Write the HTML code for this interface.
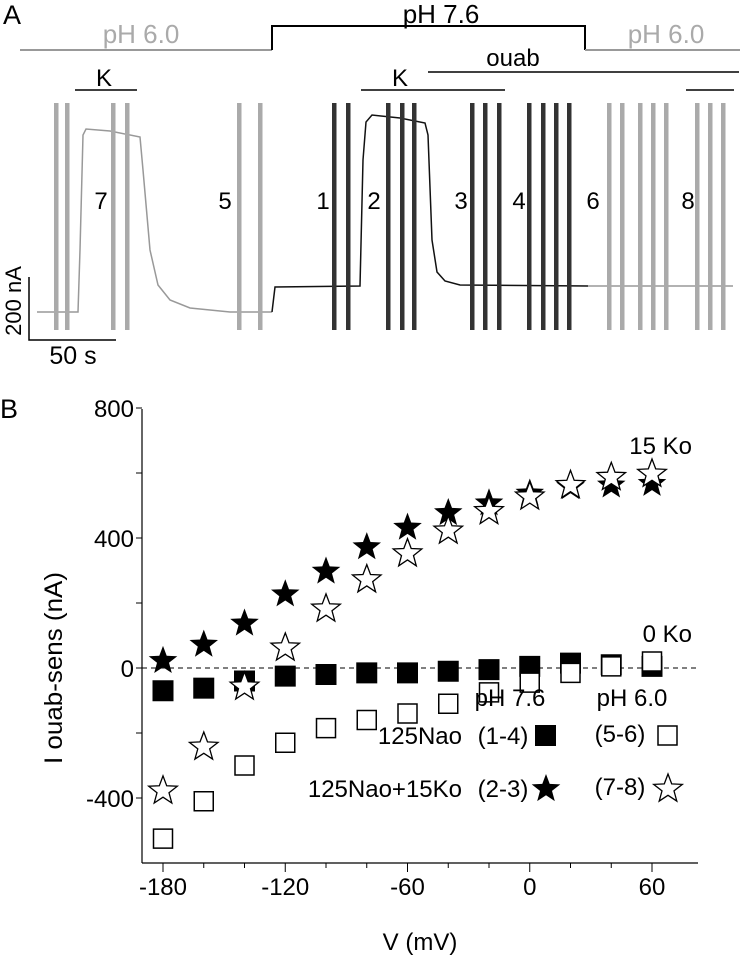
<!DOCTYPE html>
<html><head><meta charset="utf-8"><style>
html,body{margin:0;padding:0;background:#fff;}
svg{display:block;font-family:"Liberation Sans",Arial,sans-serif;}
</style></head><body>
<svg width="740" height="960" viewBox="0 0 740 960">
<!-- Panel A -->
<g>
<text x="3" y="24" font-size="27">A</text>
<polyline points="20,50 272,50" stroke="#999" stroke-width="2" fill="none"/>
<polyline points="272,50 272,26 585,26 585,50" stroke="#000" stroke-width="2" fill="none"/>
<polyline points="585,50 740,50" stroke="#999" stroke-width="2" fill="none"/>
<text x="141" y="43" font-size="26" fill="#aaa" text-anchor="middle">pH 6.0</text>
<text x="441" y="23" font-size="26" text-anchor="middle">pH 7.6</text>
<text x="666" y="43" font-size="26" fill="#aaa" text-anchor="middle">pH 6.0</text>
<line x1="75" y1="90" x2="137" y2="90" stroke="#000" stroke-width="1.5"/>
<text x="104" y="86" font-size="24" text-anchor="middle">K</text>
<line x1="361" y1="90" x2="505" y2="90" stroke="#000" stroke-width="1.5"/>
<text x="400" y="86" font-size="24" text-anchor="middle">K</text>
<line x1="428" y1="72" x2="739" y2="72" stroke="#000" stroke-width="1.5"/>
<text x="513" y="66" font-size="24" text-anchor="middle">ouab</text>
<line x1="686" y1="90" x2="734" y2="90" stroke="#000" stroke-width="1.5"/>
<polyline fill="none" stroke="#999" stroke-width="1.5"
 points="37,312 78,312 80,250 83,135 86,129 110,131 140,137 143,170 150,250 158,285 170,300 190,308 230,312 272,312"/>
<polyline fill="none" stroke="#111" stroke-width="1.5"
 points="272,312 275,287 360,286 363,160 366,122 372,115 400,118 425,123 428,135 432,240 437,272 445,281 460,285 588,286"/>
<polyline fill="none" stroke="#999" stroke-width="1.5"
 points="588,286 733,286"/>
<g id="vbars"></g>
<g font-size="24" text-anchor="middle">
<text x="101" y="209">7</text><text x="225" y="209">5</text><text x="323" y="209">1</text><text x="374" y="209">2</text>
<text x="461" y="209">3</text><text x="519" y="209">4</text><text x="593" y="209">6</text><text x="688" y="209">8</text>
</g>
<polyline points="29,277 29,340 116,340" stroke="#000" stroke-width="1.5" fill="none"/>
<text transform="translate(21,301) rotate(-90)" font-size="22" text-anchor="middle">200 nA</text>
<text x="73" y="364" font-size="25" text-anchor="middle">50 s</text>
</g>
<!-- Panel B -->
<g>
<text x="0" y="418" font-size="27">B</text>
<g id="axes"></g>
<g id="marks"></g>
<text x="692" y="454" font-size="24" text-anchor="end">15 Ko</text>
<text x="692" y="642" font-size="24" text-anchor="end">0 Ko</text>
<g font-size="24">
<text x="510" y="706" text-anchor="middle">pH 7.6</text>
<text x="632" y="706" text-anchor="middle">pH 6.0</text>
<text x="462" y="744" text-anchor="end">125Nao</text>
<text x="503" y="744" text-anchor="middle">(1-4)</text>
<rect x="535" y="725" width="21" height="21" fill="#000"/>
<text x="620" y="742" text-anchor="middle">(5-6)</text>
<rect x="658" y="726" width="19" height="19" fill="#fff" stroke="#000" stroke-width="1.5"/>
<text x="462" y="797" text-anchor="end">125Nao+15Ko</text>
<text x="503" y="797" text-anchor="middle">(2-3)</text>
<text x="620" y="795" text-anchor="middle">(7-8)</text>
<g id="legstars"></g>
</g>
</g>
</svg>
<script>
const voltages=[-180,-160,-140,-120,-100,-80,-60,-40,-20,0,20,40,60];
const filledSquares=[-70,-62,-40,-25,-20,-15,-15,-10,-5,5,15,10,5];
const openSquares=[-525,-410,-300,-230,-185,-160,-140,-110,-75,-45,-15,5,20];
const filledStars=[25,75,140,230,300,375,435,480,510,540,560,565,570];
const openStars=[-375,-240,-55,65,185,275,355,425,485,530,565,590,600];
const yTickLabels=[-400,0,400,800];
const xTickLabels=[-180,-120,-60,0,60];
const barXs=[56,67,113,127,239,260,334,348,388,402,414,472,485,499,529,543,556,569,609,622,640,653,666,697,710,723];
const barDark=[0,0,0,0,0,0,1,1,1,1,1,1,1,1,1,1,1,1,0,0,0,0,0,0,0,0];
const NS="http://www.w3.org/2000/svg";
function mk(t,a,p){const e=document.createElementNS(NS,t);for(const k in a)e.setAttribute(k,a[k]);p.appendChild(e);return e;}
const X=v=>163+(v+180)*489/240;
const Y=i=>668-i*0.325;
const vb=document.getElementById('vbars');
barXs.forEach((x,i)=>{const r=mk('rect',{x:x-2,y:103,width:4.5,height:227,fill:barDark[i]?'#333':'#aaa'},vb);

});
const ax=document.getElementById('axes');
const yl=mk('line',{x1:142,y1:409,x2:142,y2:863,stroke:'#000','stroke-width':1.2},ax);


const xl=mk('line',{x1:142,y1:863,x2:698,y2:863,stroke:'#000','stroke-width':1.2},ax);


for(let v=-400;v<=800;v+=200){mk('line',{x1:136,y1:Y(v),x2:142,y2:Y(v),stroke:'#000'},ax);}
yTickLabels.forEach(v=>{const t=mk('text',{x:134,y:Y(v)+9,'font-size':24,'text-anchor':'end'},ax);t.textContent=v;

});
for(let v=-180;v<=60;v+=20){mk('line',{x1:X(v),y1:863,x2:X(v),y2:(v%60===0)?872:868,stroke:'#000'},ax);}
xTickLabels.forEach(v=>{const t=mk('text',{x:X(v),y:895,'font-size':24,'text-anchor':'middle'},ax);t.textContent=v;

});
const dl=mk('line',{x1:142,y1:Y(0),x2:698,y2:Y(0),stroke:'#000','stroke-dasharray':'5,4'},ax);


const xt=mk('text',{x:420,y:950,'font-size':24,'text-anchor':'middle'},ax);xt.textContent='V (mV)';


const yt=mk('text',{transform:'translate(62,668) rotate(-90)','font-size':25,'text-anchor':'middle',textLength:192,lengthAdjust:'spacingAndGlyphs'},ax);yt.textContent='I ouab-sens (nA)';


function starPts(cx,cy,R){const r=R*0.42;let p=[];for(let k=0;k<10;k++){const a=-Math.PI/2+k*Math.PI/5;const rr=k%2?r:R;p.push((cx+rr*Math.cos(a)).toFixed(1)+','+(cy+rr*Math.sin(a)).toFixed(1));}return p.join(' ');}
const mg=document.getElementById('marks');
voltages.forEach((v,i)=>{const r=mk('rect',{x:X(v)-10.5,y:Y(filledSquares[i])-10.5,width:21,height:21,fill:'#000'},mg);

});
voltages.forEach((v,i)=>{const r=mk('rect',{x:X(v)-9.5,y:Y(openSquares[i])-9.5,width:19,height:19,fill:'#fff',stroke:'#000','stroke-width':1.5},mg);

});
voltages.forEach((v,i)=>{const s=mk('polygon',{points:starPts(X(v),Y(filledStars[i])+1,15),fill:'#000'},mg);

});
voltages.forEach((v,i)=>{const s=mk('polygon',{points:starPts(X(v),Y(openStars[i])+1,15),fill:'#fff',stroke:'#000','stroke-width':1.3},mg);

});
const ls=document.getElementById('legstars');
const s1=mk('polygon',{points:starPts(546,789,15),fill:'#000'},ls);


const s2=mk('polygon',{points:starPts(668,789,15),fill:'#fff',stroke:'#000','stroke-width':1.3},ls);


</script>
</body></html>
